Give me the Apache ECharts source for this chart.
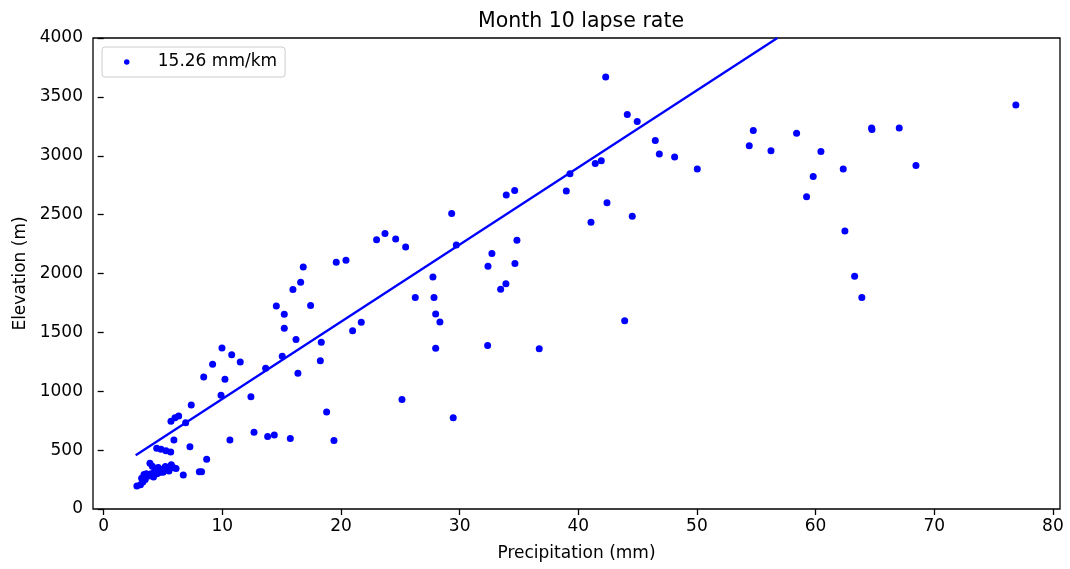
<!DOCTYPE html>
<html>
<head>
<meta charset="utf-8">
<script src="https://cdn.jsdelivr.net/npm/echarts@6/dist/echarts.min.js"></script>
<style>
  html, body { margin: 0; padding: 0; background: #fff; }
  #chart { width: 1070px; height: 569px; }
</style>
</head>
<body>
<div id="chart"></div>
<script>
const chartTitle = 'Month 10 lapse rate';
const xAxisName = 'Precipitation (mm)';
const yAxisName = 'Elevation (m)';
const legendLabel = '15.26 mm/km';

const xTicks = [0, 10, 20, 30, 40, 50, 60, 70, 80];
const yTicks = [0, 500, 1000, 1500, 2000, 2500, 3000, 3500, 4000];

// observed points: precipitation (mm) and elevation (m)
const precip = [
  2.8, 3.1, 3.3, 3.2, 3.5, 3.4, 3.8, 4.0, 4.2, 4.5, 4.3, 4.7, 4.9, 5.0, 5.2, 5.4, 5.7, 5.9, 6.1, 4.6, 3.9, 4.1, 3.6, 5.5,
  6.71, 8.06, 8.25, 8.68, 4.47, 4.83, 5.25, 5.65, 5.92, 7.27, 5.67, 6.01, 6.32, 6.91, 7.38,
  8.43, 9.18, 9.97, 10.79, 11.51, 10.22, 9.89, 12.41, 10.64, 12.67, 13.82, 14.38, 15.73,
  13.65, 14.55, 15.22, 15.22, 15.05, 16.21, 16.37, 15.95, 16.60, 16.82, 17.44, 18.34, 18.26, 18.79, 19.41,
  19.60, 20.42, 20.98, 21.71,
  23.0, 23.71, 24.61, 25.45, 26.26, 25.14, 27.75, 27.84, 27.98, 28.34, 27.98, 29.33, 29.72, 29.46,
  32.39, 32.72, 32.36, 33.46, 33.90, 34.66, 34.83, 33.93, 34.64, 36.71,
  38.99, 39.30, 41.07, 41.43, 41.94, 42.42, 42.31, 43.91, 44.13, 44.55, 44.97, 46.49, 46.83, 48.12, 50.03,
  54.41, 54.75, 56.24, 58.40, 59.24, 59.80, 60.45, 62.33, 62.47, 63.29, 63.90, 64.72, 64.75, 67.05, 68.46, 76.88
];
const elevation = [
  195, 205, 230, 262, 250, 292, 280, 300, 272, 300, 322, 310, 335, 312, 360, 330, 375, 350, 345, 352, 388, 362, 300, 322,
  289, 317, 317, 422, 516, 507, 495, 484, 586, 529, 745, 776, 790, 733, 884,
  1122, 1229, 1368, 1311, 1249, 1102, 966, 954, 586, 651, 615, 629, 598,
  1195, 1725, 1654, 1535, 1297, 1439, 1153, 1864, 1926, 2056, 1728, 1417, 1258, 824, 581,
  2096, 2113, 1513, 1586,
  2286, 2340, 2294, 2226, 1796, 929, 1971, 1796, 1657, 1589, 1366, 2510, 2243, 776,
  2062, 2170, 1388, 1867, 1912, 2085, 2283, 2666, 2705, 1360,
  2700, 2847, 2436, 2934, 2957, 2600, 3668, 1598, 3351, 2487, 3291, 3130, 3014, 2989, 2887,
  3085, 3215, 3042, 3192, 2651, 2824, 3036, 2887, 2360, 1977, 1796, 3235, 3222, 3235, 2917, 3430
];

// fitted lapse-rate line end points
const fitPrecip = [2.70, 56.78];
const fitElevation = [456, 4000];

const font = 'DejaVu Sans';
const chart = echarts.init(document.getElementById('chart'), null, { renderer: 'canvas' });

const scatterData = precip.map((p, i) => [p, elevation[i]]);
const fitData = fitPrecip.map((p, i) => [p, fitElevation[i]]);

chart.setOption({
  animation: false,
  backgroundColor: '#ffffff',
  title: {
    text: chartTitle,
    left: 576,
    textAlign: 'center',
    top: 6,
    textStyle: { fontFamily: font, fontSize: 20.5, fontWeight: 'normal', color: '#000' }
  },
  legend: {
    left: 102,
    top: 47,
    orient: 'vertical',
    data: [{ name: legendLabel, icon: 'circle' }],
    itemWidth: 40,
    itemHeight: 5.5,
    padding: [6, 8, 6, 22],
    borderColor: '#cccccc',
    borderWidth: 1,
    borderRadius: 3,
    backgroundColor: '#ffffff',
    textStyle: { fontFamily: font, fontSize: 17, color: '#000', padding: [0, 0, 0, 6], lineHeight: 18 }
  },
  grid: {
    left: 93,
    right: 10,
    top: 38,
    bottom: 60,
    show: true,
    borderColor: '#000',
    borderWidth: 1.3,
    backgroundColor: 'transparent'
  },
  xAxis: {
    type: 'value',
    min: -0.9,
    max: 80.6,
    name: xAxisName,
    nameLocation: 'middle',
    nameGap: 36,
    nameTextStyle: { fontFamily: font, fontSize: 17, color: '#000' },
    axisLine: { show: false },
    splitLine: { show: false },
    axisTick: { show: true, length: 6, customValues: xTicks, lineStyle: { color: '#000', width: 1.3 } },
    axisLabel: { customValues: xTicks, margin: 9, fontFamily: font, fontSize: 17, color: '#000',
      formatter: v => String(v) }
  },
  yAxis: {
    type: 'value',
    min: 0,
    max: 4000,
    name: yAxisName,
    nameLocation: 'middle',
    nameGap: 62,
    nameRotate: 90,
    nameTextStyle: { fontFamily: font, fontSize: 17, color: '#000' },
    axisLine: { show: false },
    splitLine: { show: false },
    axisTick: { show: true, length: 6, customValues: yTicks, lineStyle: { color: '#000', width: 1.3 } },
    axisLabel: { customValues: yTicks, margin: 10, fontFamily: font, fontSize: 17, color: '#000',
      formatter: v => String(v) }
  },
  series: [
    {
      name: legendLabel,
      type: 'scatter',
      data: scatterData,
      symbol: 'circle',
      symbolSize: 7,
      itemStyle: { color: '#0000ff', opacity: 1 },
      z: 3
    },
    {
      name: 'fit',
      type: 'line',
      data: fitData,
      showSymbol: false,
      symbol: 'none',
      lineStyle: { color: '#0000ff', width: 2.3 },
      clip: true,
      z: 4
    }
  ]
});
</script>
</body>
</html>
